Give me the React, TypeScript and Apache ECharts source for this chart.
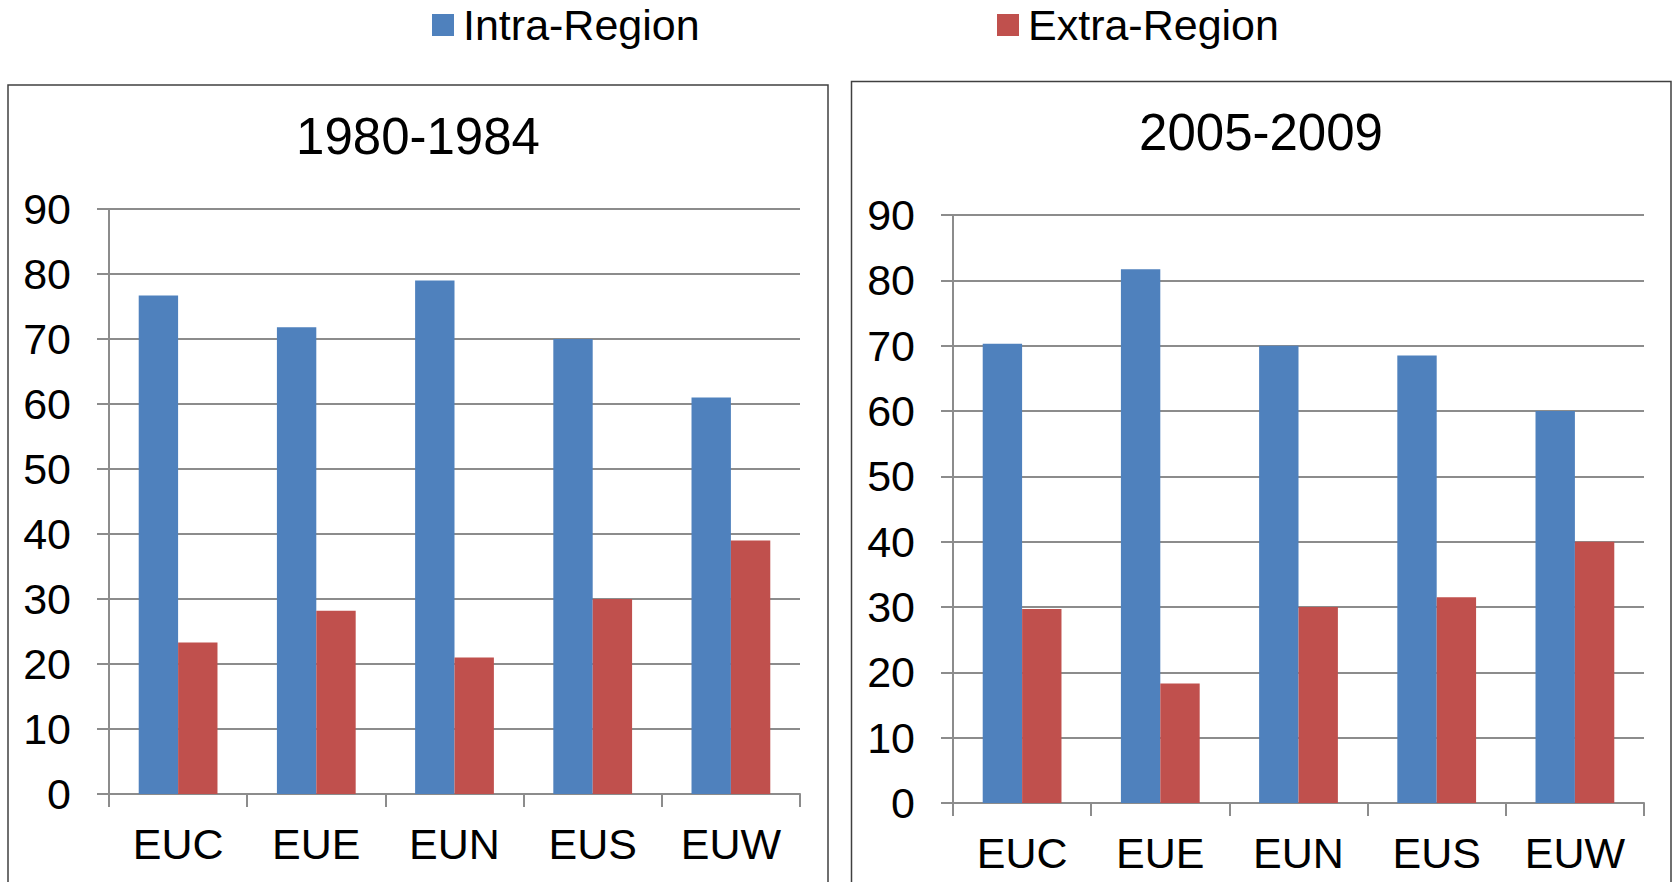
import React, { useEffect, useRef } from "react";
import * as echarts from "echarts";

const categories = ["EUC", "EUE", "EUN", "EUS", "EUW"];
const intra1980 = [76.7, 71.8, 79.0, 70.0, 61.0];
const extra1980 = [23.3, 28.2, 21.0, 30.0, 39.0];
const intra2005 = [70.3, 81.7, 70.0, 68.5, 60.0];
const extra2005 = [29.7, 18.3, 30.0, 31.5, 40.0];
const panelTitles = ["1980-1984", "2005-2009"];
const seriesNames = ["Intra-Region", "Extra-Region"];

const BLUE = "#4F81BD";
const RED = "#C0504D";
const GRID = "#8c8c8c";
const FONT = "Liberation Sans, Arial, sans-serif";

export default function App() {
  const ref = useRef<HTMLDivElement>(null);
  useEffect(() => {
    document.body.style.margin = "0";
    const chart = echarts.init(ref.current!, undefined, { renderer: "svg" });
    const yAxisCommon = {
      type: "value",
      min: 0,
      max: 90,
      interval: 10,
      axisLine: { show: true, lineStyle: { color: GRID, width: 2 } },
      axisTick: { show: true, length: 12, lineStyle: { color: GRID, width: 2 } },
      splitLine: { show: true, lineStyle: { color: GRID, width: 2 } },
      axisLabel: { color: "#000", fontFamily: FONT, fontSize: 43, margin: 38 },
    };
    const xAxisCommon = {
      type: "category",
      data: categories,
      axisLine: { show: true, lineStyle: { color: GRID, width: 2 } },
      axisTick: { show: true, length: 13, lineStyle: { color: GRID, width: 2 } },
      axisLabel: { color: "#000", fontFamily: FONT, fontSize: 43, margin: 28 },
    };
    const bar = (name: string, data: number[], idx: number, color: string) => ({
      name,
      type: "bar",
      xAxisIndex: idx,
      yAxisIndex: idx,
      data,
      barGap: "0%",
      barCategoryGap: "43%",
      itemStyle: { color },
    });
    const legendCommon = {
      top: 3,
      padding: 0,
      itemWidth: 22,
      itemHeight: 22,
      itemGap: 11,
      icon: "rect",
      textStyle: {
        fontFamily: FONT,
        fontSize: 43,
        color: "#000",
        lineHeight: 44,
        padding: [0, 0, 0, 4],
      },
    };
    chart.setOption({
      animation: false,
      backgroundColor: "#fff",
      legend: [
        { ...legendCommon, data: [seriesNames[0]], left: 432 },
        { ...legendCommon, data: [seriesNames[1]], left: 997 },
      ],
      grid: [
        { left: 109, right: 872, top: 209, bottom: 88 },
        { left: 953, right: 28, top: 215, bottom: 79 },
      ],
      xAxis: [
        { ...xAxisCommon, gridIndex: 0 },
        { ...xAxisCommon, gridIndex: 1 },
      ],
      yAxis: [
        { ...yAxisCommon, gridIndex: 0 },
        { ...yAxisCommon, gridIndex: 1 },
      ],
      series: [
        bar(seriesNames[0], intra1980, 0, BLUE),
        bar(seriesNames[1], extra1980, 0, RED),
        bar(seriesNames[0], intra2005, 1, BLUE),
        bar(seriesNames[1], extra2005, 1, RED),
      ],
      graphic: [
        {
          type: "rect",
          shape: { x: 8, y: 85, width: 820, height: 860 },
          style: { fill: "none", stroke: "#404040", lineWidth: 1.5 },
          z: -1,
        },
        {
          type: "rect",
          shape: { x: 851.5, y: 81.5, width: 819.5, height: 860 },
          style: { fill: "none", stroke: "#404040", lineWidth: 1.5 },
          z: -1,
        },
        {
          type: "text",
          x: 418,
          y: 136,
          style: {
            text: panelTitles[0],
            fontFamily: FONT,
            fontSize: 51,
            fill: "#000",
            textAlign: "center",
            textVerticalAlign: "middle",
          },
        },
        {
          type: "text",
          x: 1261,
          y: 132,
          style: {
            text: panelTitles[1],
            fontFamily: FONT,
            fontSize: 51,
            fill: "#000",
            textAlign: "center",
            textVerticalAlign: "middle",
          },
        },
      ],
    });
    return () => chart.dispose();
  }, []);
  return (
    <div
      ref={ref}
      style={{ position: "fixed", left: 0, top: 0, width: 1672, height: 882 }}
    />
  );
}
